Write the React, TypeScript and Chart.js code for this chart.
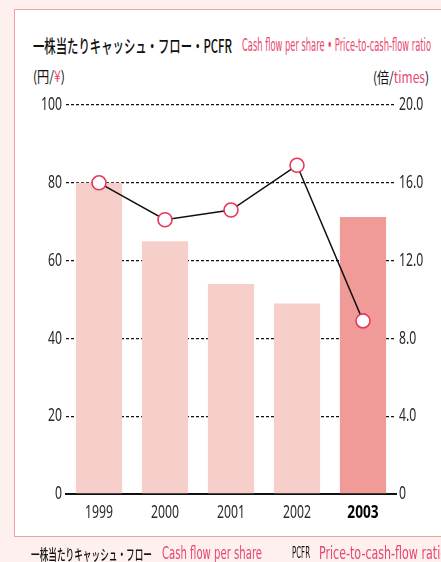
import React, { useEffect, useLayoutEffect, useRef } from "react";
import { Chart, registerables } from "chart.js";

Chart.register(...registerables);

// ---- data ----
const years = ["1999", "2000", "2001", "2002", "2003"];
const cashFlowPerShare = [80, 65, 54, 49, 71.2];
const pcfr = [16.0, 14.1, 14.6, 16.9, 8.9];
const leftAxis = { min: 0, max: 100, step: 20 };
const rightAxis = { min: 0, max: 20, step: 4 };

const barColors = ["#f6cfca", "#f6cfca", "#f6cfca", "#f6cfca", "#f09b98"];
const PINK = "#e8466e";
const NARROW = '"Liberation Sans Narrow", "DejaVu Sans Condensed", "Noto Sans", sans-serif';
const JP = '"Noto Sans CJK JP", "Noto Sans", sans-serif';
const TICK_FAMILY = '"Noto Sans", "DejaVu Sans", sans-serif';

// Draws the tick labels of the chart's own scales in a condensed style
const condensedTicks = {
  id: "condensedTicks",
  afterDraw(chart: any) {
    const ctx = chart.ctx as CanvasRenderingContext2D;
    const area = chart.chartArea;
    const put = (text: string, x: number, y: number, align: CanvasTextAlign, font: string, color: string, sx: number) => {
      ctx.save();
      ctx.font = font;
      ctx.fillStyle = color;
      ctx.textBaseline = "middle";
      ctx.textAlign = align;
      ctx.translate(x, y);
      ctx.scale(sx, 1);
      ctx.fillText(text, 0, 0);
      ctx.restore();
    };
    const xs = chart.scales.x;
    xs.ticks.forEach((t: any, i: number) => {
      const bold = i === 4;
      put(
        String(t.label),
        xs.getPixelForTick(i),
        area.bottom + 19,
        "center",
        `${bold ? "bold " : ""}18px ${TICK_FAMILY}`,
        bold ? "#000" : "#2a2a2a",
        bold ? 0.76 : 0.68
      );
    });
    const ys = chart.scales.y;
    ys.ticks.forEach((t: any, i: number) => {
      put(String(t.label), area.left - 4, ys.getPixelForTick(i), "right", `18px ${TICK_FAMILY}`, "#2a2a2a", 0.68);
    });
    const y1 = chart.scales.y1;
    y1.ticks.forEach((t: any, i: number) => {
      put(String(t.label), area.right + 3, y1.getPixelForTick(i), "left", `18px ${TICK_FAMILY}`, "#2a2a2a", 0.68);
    });
  },
};

type FitProps = {
  x: number;
  y: number;
  w: number;
  size: number;
  family: string;
  color?: string;
  weight?: number;
  children: React.ReactNode;
};

function FitText({ x, y, w, size, family, color = "#111", weight = 400, children }: FitProps) {
  const ref = useRef<HTMLSpanElement>(null);
  useLayoutEffect(() => {
    const fit = () => {
      const el = ref.current;
      if (!el) return;
      el.style.transform = "translateY(-50%)";
      const natural = el.getBoundingClientRect().width;
      if (natural > 0) el.style.transform = `translateY(-50%) scaleX(${w / natural})`;
    };
    fit();
    if ((document as any).fonts && (document as any).fonts.ready) {
      (document as any).fonts.ready.then(fit);
    }
  });
  return (
    <span
      ref={ref}
      style={{
        position: "absolute",
        left: x,
        top: y,
        fontSize: size,
        fontWeight: weight,
        lineHeight: 1,
        whiteSpace: "nowrap",
        transformOrigin: "0 50%",
        color,
        fontFamily: family,
      }}
    >
      {children}
    </span>
  );
}

export default function App() {
  const canvasRef = useRef<HTMLCanvasElement>(null);

  useEffect(() => {
    const canvas = canvasRef.current;
    if (!canvas) return;
    const chart = new Chart(canvas, {
      type: "bar",
      plugins: [condensedTicks],
      data: {
        labels: years,
        datasets: [
          {
            type: "line",
            label: "PCFR",
            data: pcfr,
            yAxisID: "y1",
            borderColor: "#111",
            borderWidth: 1.5,
            pointRadius: 7,
            pointBorderWidth: 1.6,
            pointBackgroundColor: "#ffffff",
            pointBorderColor: "#e5395c",
            tension: 0,
          } as any,
          {
            type: "bar",
            label: "Cash flow per share",
            data: cashFlowPerShare,
            yAxisID: "y",
            backgroundColor: barColors,
            barPercentage: 0.7,
            categoryPercentage: 1.0,
          } as any,
        ],
      },
      options: {
        responsive: false,
        animation: false,
        layout: { padding: { top: 105, left: 0, right: 0, bottom: 0 } },
        plugins: { legend: { display: false }, tooltip: { enabled: false } },
        scales: {
          x: {
            grid: { display: false, drawTicks: false },
            border: { display: true, color: "#111", width: 2 },
            ticks: {
              padding: 5,
              color: "transparent",
              font: { family: TICK_FAMILY, size: 17 },
            },
            afterFit: (s: any) => {
              s.height = 68;
            },
          },
          y: {
            position: "left",
            min: leftAxis.min,
            max: leftAxis.max,
            grid: {
              drawTicks: false,
              color: (c: any) => (c.tick && c.tick.value === 0 ? "transparent" : "#111"),
              lineWidth: 1.3,
            },
            border: { display: false, dash: [3, 2] },
            ticks: {
              stepSize: leftAxis.step,
              padding: 4,
              color: "transparent",
              font: { family: TICK_FAMILY, size: 17 },
            },
            afterFit: (s: any) => {
              s.width = 66;
            },
          },
          y1: {
            position: "right",
            min: rightAxis.min,
            max: rightAxis.max,
            grid: { display: false, drawTicks: false },
            border: { display: false },
            ticks: {
              stepSize: rightAxis.step,
              padding: 3,
              color: "transparent",
              font: { family: TICK_FAMILY, size: 17 },
              callback: (v: any) => (Number(v) === 0 ? "0" : Number(v).toFixed(1)),
            },
            afterFit: (s: any) => {
              s.width = 45;
            },
          },
        },
      } as any,
    });
    return () => chart.destroy();
  }, []);

  return (
    <div
      style={{
        position: "fixed",
        left: 0,
        top: 0,
        width: 441,
        height: 562,
        background: "#fdf0ef",
        overflow: "hidden",
      }}
    >
      <div
        style={{
          position: "absolute",
          left: 14,
          top: 9,
          width: 460,
          height: 526,
          border: "1.5px solid #f2a0a0",
          background: "#ffffff",
        }}
      />
      <FitText x={33} y={45} w={199} size={18} weight={500} family={JP}>
        一株当たりキャッシュ・フロー・PCFR
      </FitText>
      <FitText x={242} y={45} w={189} size={18} family={NARROW} color={PINK}>
        Cash flow per share • Price-to-cash-flow ratio
      </FitText>
      <FitText x={33} y={75} w={32} size={15} family={JP}>
        (円/<span style={{ color: PINK }}>¥</span>)
      </FitText>
      <FitText x={373} y={76} w={56} size={15} family={JP}>
        (倍/<span style={{ color: PINK }}>times</span>)
      </FitText>
      <canvas
        ref={canvasRef}
        width={441}
        height={562}
        style={{ position: "absolute", left: 0, top: 0, width: 441, height: 562, display: "block" }}
      />
      <FitText x={31} y={553} w={121} size={15} weight={500} family={JP}>
        一株当たりキャッシュ・フロー
      </FitText>
      <FitText x={162} y={553} w={100} size={17} family={NARROW} color={PINK}>
        Cash flow per share
      </FitText>
      <FitText x={292} y={553} w={18} size={15} family={NARROW}>
        PCFR
      </FitText>
      <FitText x={319} y={553} w={128} size={17} family={NARROW} color={PINK}>
        Price-to-cash-flow ratio
      </FitText>
    </div>
  );
}
